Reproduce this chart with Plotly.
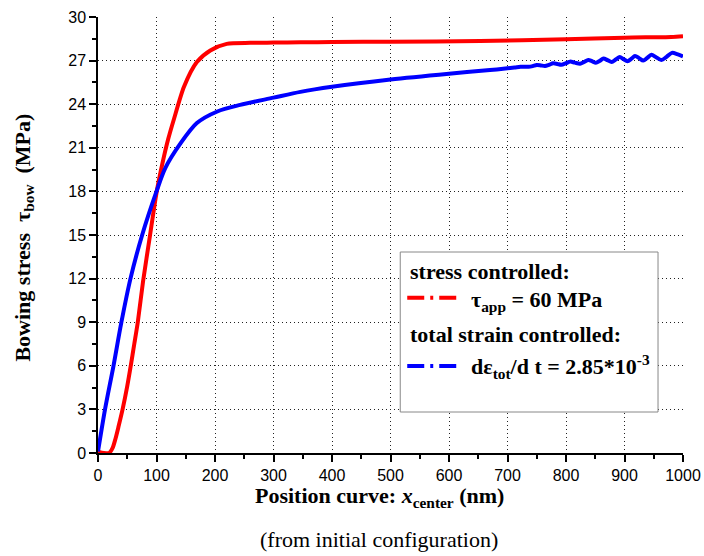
import plotly.graph_objects as go

# Stress-controlled run: bowing stress vs. position of the curve centre
x_stress = [0, 10, 19, 25, 30, 35, 42, 50, 56, 62, 68, 77, 89, 100, 110, 120, 130,
            147, 169, 192, 220, 260, 300, 346, 400, 500, 653, 800, 900, 980, 1000]
tau_stress = [0.1, 0.0, 0.0, 0.35, 1.0, 1.8, 3.0, 4.6, 6.0, 7.5, 9.0, 11.8, 15.0, 17.9,
              19.9, 21.6, 23.0, 25.2, 26.9, 27.7, 28.15, 28.22, 28.24, 28.26, 28.28,
              28.3, 28.35, 28.47, 28.58, 28.63, 28.68]

# Total-strain-controlled run (oscillates beyond ~700 nm)
x_strain = [0, 12, 26.5, 40, 55.5, 75.5, 100, 115, 141, 169, 204, 243, 300, 346,
            400, 500, 600, 670, 700, 712,
            722, 729, 736, 743, 750, 757, 764, 771, 778, 785, 792, 800, 807, 815,
            824, 831, 838, 845, 851, 858, 864, 871, 878, 885, 892, 898, 905, 912,
            918, 925, 932, 939, 946, 954, 963, 972, 981, 990, 1000]
tau_strain = [0.1, 3.0, 6.0, 9.0, 12.0, 15.0, 18.0, 19.6, 21.3, 22.7, 23.5, 23.95,
              24.45, 24.85, 25.2, 25.7, 26.1, 26.35, 26.47, 26.52,
              26.57, 26.58, 26.57, 26.62, 26.70, 26.67, 26.63, 26.71, 26.81, 26.77,
              26.71, 26.82, 26.93, 26.86, 26.79, 26.91, 27.04, 26.95, 26.85, 26.99,
              27.14, 27.03, 26.91, 27.07, 27.24, 27.11, 26.96, 27.13, 27.32, 27.17,
              27.0, 27.19, 27.40, 27.23, 27.04, 27.26, 27.53, 27.45, 27.28]

x_ticks = list(range(0, 1001, 100))
y_ticks = list(range(0, 31, 3))

RED = "#ff0000"
BLUE = "#0000ff"
SERIF = "Liberation Serif, Times New Roman, serif"
SANS = "Liberation Sans, Arial, sans-serif"

W, H = 704, 556
L, R, T, B = 97.5, 21, 17, 103
PW, PH = W - L - R, H - T - B


def px(xp):
    return (xp - L) / PW


def py(yp):
    return (H - B - yp) / PH


fig = go.Figure()
fig.add_trace(go.Scatter(x=x_stress, y=tau_stress, mode="lines",
                         line=dict(color=RED, width=4, shape="spline", smoothing=0.7),
                         showlegend=False))
fig.add_trace(go.Scatter(x=x_strain, y=tau_strain, mode="lines",
                         line=dict(color=BLUE, width=4, shape="spline", smoothing=0.8),
                         showlegend=False))

axis_common = dict(
    showline=True, linecolor="black", linewidth=1.5,
    ticks="outside", ticklen=7, tickwidth=1.5, tickcolor="black",
    showgrid=True, gridcolor="#222", gridwidth=1, griddash="1px,3px",
    zeroline=False, tickfont=dict(family=SANS, size=16, color="black"),
)

fig.update_xaxes(range=[0, 1000], tickvals=x_ticks, ticktext=[str(v) for v in x_ticks],
                 minor=dict(dtick=50, ticklen=4, tickwidth=1.5, tickcolor="black", showgrid=False),
                 **axis_common)
fig.update_yaxes(range=[0, 30], tickvals=y_ticks, ticktext=[str(v) for v in y_ticks],
                 minor=dict(dtick=1.5, ticklen=4, tickwidth=1.5, tickcolor="black", showgrid=False),
                 **axis_common)

# legend frame and line samples
shapes = [dict(type="rect", xref="paper", yref="paper",
               x0=px(400), x1=px(658), y0=py(412), y1=py(252),
               fillcolor="white", line=dict(color="#888", width=1), layer="above")]
for yp, col in [(297.7, RED), (366, BLUE)]:
    shapes.append(dict(type="line", xref="paper", yref="paper",
                       x0=px(407), x1=px(460), y0=py(yp), y1=py(yp),
                       line=dict(color=col, width=4, dash="17px,6px,3px,6px"), layer="above"))

annotations = [
    dict(text="<b>stress controlled:</b>", x=px(408), y=py(271), xanchor="left", yanchor="middle"),
    dict(text="<b>τ<sub>app</sub> = 60 MPa</b>", x=px(469), y=py(301), xanchor="left", yanchor="middle"),
    dict(text="<b>total strain controlled:</b>", x=px(408), y=py(334), xanchor="left", yanchor="middle"),
    dict(text="<b>dε<sub>tot</sub>/d t = 2.85*10<sup>-3</sup></b>", x=px(469), y=py(366),
         xanchor="left", yanchor="middle"),
    dict(text="<b>Position curve: <i>x</i><sub>center</sub> (nm)</b>", x=px(379), y=py(497),
         xanchor="center", yanchor="middle"),
    dict(text="(from initial configuration)", x=px(379), y=py(539),
         xanchor="center", yanchor="middle"),
    dict(text="<b>Bowing stress  τ<sub>bow</sub>  (MPa)</b>", x=px(23), y=py(238),
         xanchor="center", yanchor="middle", textangle=-90),
]
for a in annotations:
    a.update(xref="paper", yref="paper", showarrow=False,
             font=dict(family=SERIF, size=22, color="black"))

fig.update_layout(
    width=W, height=H,
    margin=dict(l=L, r=R, t=T, b=B, autoexpand=False),
    paper_bgcolor="white", plot_bgcolor="white",
    shapes=shapes, annotations=annotations, showlegend=False,
)

fig.write_html("out.html")
